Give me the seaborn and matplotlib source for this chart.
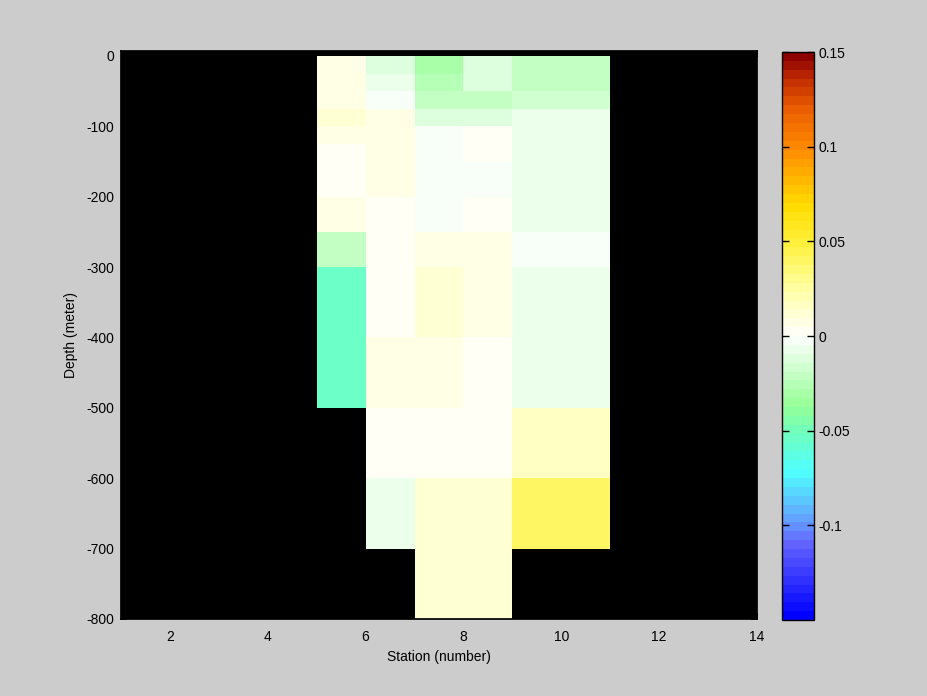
import numpy as np
import matplotlib
matplotlib.use("Agg")
import matplotlib.pyplot as plt
import seaborn as sns
from matplotlib.colors import LinearSegmentedColormap

# cell edges of the section
station_edges = [5, 6, 7, 8, 9, 11]
depth_edges = [0, -25, -50, -75, -100, -125, -150, -200, -250, -300,
               -400, -500, -600, -700, -800]

nan = np.nan
# anomaly per station column, surface -> bottom (one value per depth layer)
st5 = [0.006, 0.006, 0.006, 0.012, 0.005, 0.002, 0.002, 0.006, -0.021, -0.054, -0.054, nan, nan, nan]
st6 = [-0.012, -0.008, -0.003, 0.005, 0.005, 0.005, 0.005, 0.002, 0.002, 0.002, 0.006, 0.002, -0.007, nan]
st7 = [-0.030, -0.027, -0.021, -0.012, -0.003, -0.003, -0.003, -0.003, 0.006, 0.012, 0.006, 0.002, 0.010, 0.014]
st8 = [-0.012, -0.012, -0.021, -0.012, 0.002, 0.002, -0.003, 0.002, 0.006, 0.006, 0.002, 0.002, 0.010, 0.011]
st9 = [-0.021, -0.021, -0.016, -0.007, -0.007, -0.007, -0.007, -0.007, -0.003, -0.007, -0.007, 0.017, 0.040, nan]

x_ticks = [2, 4, 6, 8, 10, 12, 14]
y_ticks = [0, -100, -200, -300, -400, -500, -600, -700, -800]
cbar_ticks = [-0.1, -0.05, 0, 0.05, 0.1, 0.15]
cbar_labels = ["-0.1", "-0.05", "0", "0.05", "0.1", "0.15"]

sns.set_theme(style="ticks", rc={
    "figure.facecolor": "#cccccc",
    "axes.facecolor": "black",
    "axes.edgecolor": "black",
    "axes.unicode_minus": False,
    "xtick.direction": "in",
    "ytick.direction": "in",
})
plt.rcParams["font.family"] = ["Liberation Sans", "DejaVu Sans"]
plt.rcParams["font.size"] = 10

# blue - cyan - green - white - yellow - orange - dark red, 64 steps
cmap = LinearSegmentedColormap.from_list("anom", [
    (0.000, (0 / 255, 0 / 255, 1.0)),
    (0.130, (100 / 255, 100 / 255, 1.0)),
    (0.167, (100 / 255, 155 / 255, 1.0)),
    (0.257, (80 / 255, 1.0, 1.0)),
    (0.333, (115 / 255, 1.0, 185 / 255)),
    (0.375, (150 / 255, 1.0, 150 / 255)),
    (0.500, (1.0, 1.0, 1.0)),
    (0.583, (1.0, 1.0, 165 / 255)),
    (0.667, (1.0, 240 / 255, 60 / 255)),
    (0.733, (1.0, 220 / 255, 0.0)),
    (0.833, (1.0, 140 / 255, 0.0)),
    (0.903, (235 / 255, 95 / 255, 0.0)),
    (0.963, (190 / 255, 40 / 255, 0.0)),
    (1.000, (140 / 255, 0.0, 0.0)),
], N=64)

values = np.ma.masked_invalid(np.column_stack([st5, st6, st7, st8, st9]))

fig = plt.figure(figsize=(9.28, 6.96), dpi=100)
ax = fig.add_axes([121 / 928, 77 / 696, 636 / 928, 568 / 696])
mesh = ax.pcolormesh(station_edges, depth_edges, values, cmap=cmap,
                     vmin=-0.15, vmax=0.15)
ax.set_axisbelow(True)
ax.set_xlim(1, 14)
ax.set_ylim(-800, 7)
ax.set_xticks(x_ticks)
ax.set_yticks(y_ticks)
ax.tick_params(top=True, right=True, length=4, color="black",
               labelcolor="black", labelsize=10)
ax.tick_params(axis="x", pad=8)
ax.tick_params(axis="y", pad=5)
ax.set_xlabel("Station (number)", fontsize=10, color="black", labelpad=4)
ax.set_ylabel("Depth (meter)", fontsize=10, color="black", labelpad=6)

cax = fig.add_axes([782 / 928, 76 / 696, 32 / 928, 568 / 696])
cbar = fig.colorbar(mesh, cax=cax, ticks=cbar_ticks)
cbar.ax.set_yticklabels(cbar_labels)
cbar.outline.set_edgecolor("black")
cbar.outline.set_linewidth(1.0)
cax.set_axisbelow(False)
cax.tick_params(direction="in", left=True, right=True, length=5, width=1,
                color="black", labelcolor="black", labelsize=10, pad=3)

fig.savefig("out.png", dpi=100, facecolor=fig.get_facecolor())
